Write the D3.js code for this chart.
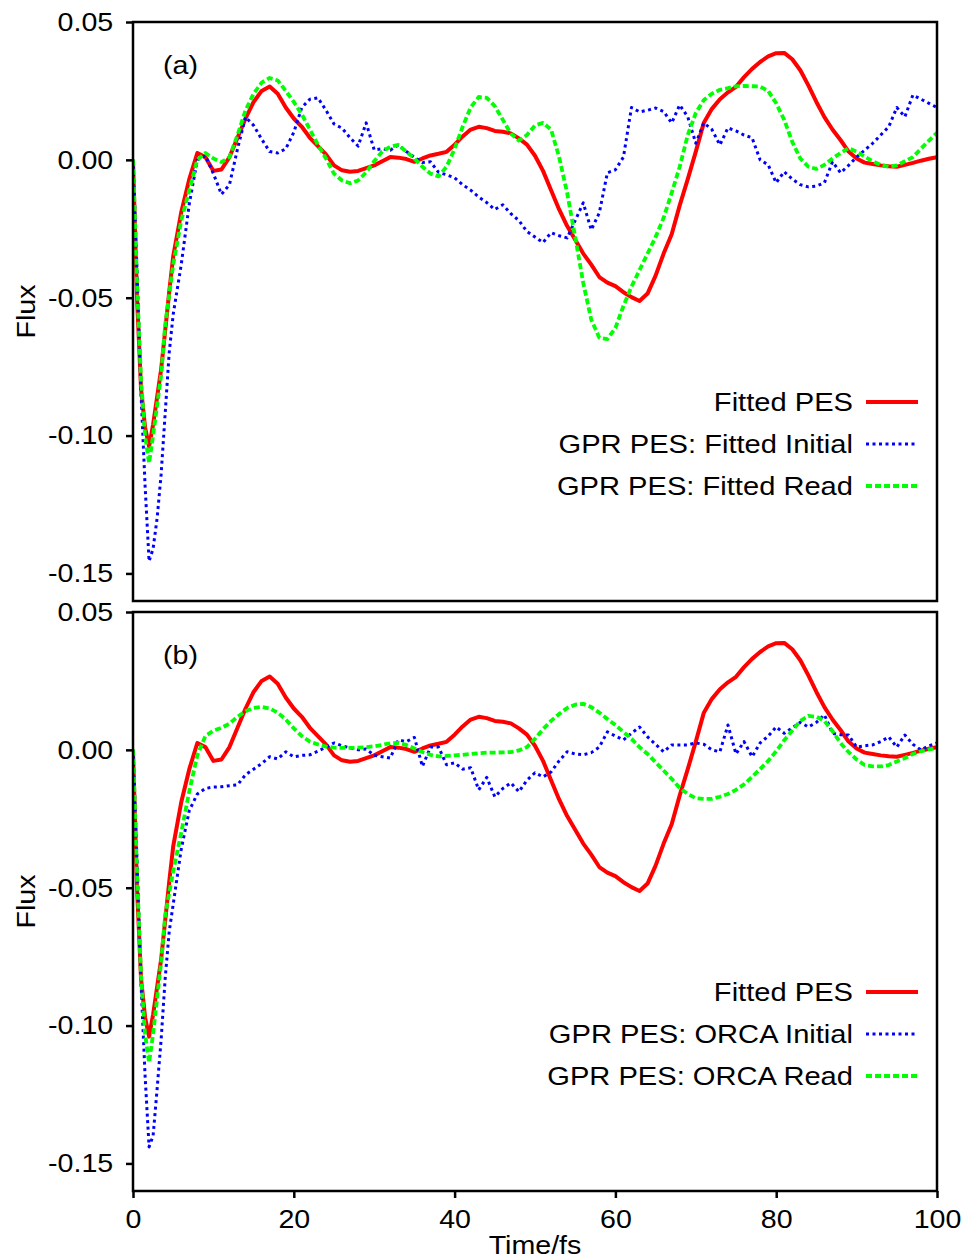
<!DOCTYPE html>
<html>
<head>
<meta charset="utf-8">
<script src="https://cdn.jsdelivr.net/npm/d3@7"></script>
<style>
  body { margin: 0; background: #fff; }
  text { font-family: "Liberation Sans", Arial, sans-serif; fill: #000; }
</style>
</head>
<body>
<svg id="chart" width="968" height="1259"></svg>
<script>
// time axis (fs)
const time = [0, 0.5, 1, 1.5, 2, 2.5, 3, 3.5, 4, 4.5,
  5, 6, 7, 8, 9, 10, 11, 12, 13, 14,
  15, 16, 17, 18, 19, 20, 21, 22, 23, 24,
  25, 26, 27, 28, 29, 30, 31, 32, 33, 34,
  35, 36, 37, 38, 39, 40, 41, 42, 43, 44,
  45, 46, 47, 48, 49, 50, 51, 52, 53, 54,
  55, 56, 57, 58, 59, 60, 61, 62, 63, 64,
  65, 66, 67, 68, 69, 70, 71, 72, 73, 74,
  75, 76, 77, 78, 79, 80, 81, 82, 83, 84,
  85, 86, 87, 88, 89, 90, 91, 92, 93, 94,
  95, 96, 97, 98, 99, 100];

// Fitted PES (same in both panels)
const fittedPES = [0, -0.05, -0.083, -0.097, -0.104, -0.096, -0.086, -0.076, -0.062, -0.048,
  -0.035, -0.019, -0.007, 0.0025, 0.001, -0.004, -0.0035, 0.001, 0.008, 0.015,
  0.021, 0.025, 0.0266, 0.024, 0.019, 0.015, 0.012, 0.008, 0.005, 0.002,
  -0.002, -0.0038, -0.0043, -0.004, -0.003, -0.002, -0.0005, 0.001, 0.0008, 0.0003,
  -0.0007, 0.0005, 0.0016, 0.0022, 0.0029, 0.0055, 0.0085, 0.011, 0.012, 0.0115,
  0.0105, 0.0102, 0.0096, 0.0078, 0.0055, 0.0015, -0.004, -0.011, -0.018, -0.024,
  -0.029, -0.034, -0.038, -0.0425, -0.0445, -0.0458, -0.048, -0.0498, -0.0512, -0.0485,
  -0.042, -0.034, -0.027, -0.0165, -0.007, 0.003, 0.0135, 0.0185, 0.022, 0.0245,
  0.0265, 0.03, 0.033, 0.0355, 0.0375, 0.0387, 0.0388, 0.0365, 0.0325, 0.027,
  0.021, 0.0155, 0.011, 0.0072, 0.003, 0.0005, -0.001, -0.0015, -0.002, -0.0023,
  -0.0025, -0.0018, -0.0011, -0.0003, 0.0004, 0.001];

// panel (a)
const fittedInitial = [0, -0.04, -0.085, -0.118, -0.1456, -0.141, -0.13, -0.114, -0.092, -0.07,
  -0.056, -0.038, -0.016, 0, 0.0015, -0.005, -0.0125, -0.009, 0.004, 0.0155,
  0.0125, 0.0075, 0.003, 0.0025, 0.004, 0.01, 0.019, 0.022, 0.0225, 0.018,
  0.013, 0.0115, 0.008, 0.005, 0.0134, 0.0036, 0.004, 0.0035, 0.0054, 0.003,
  0.001, -0.001, -0.0007, -0.0045, -0.0054, -0.0065, -0.009, -0.011, -0.0135, -0.0155,
  -0.018, -0.0163, -0.0195, -0.022, -0.026, -0.028, -0.03, -0.0264, -0.0275, -0.0283,
  -0.022, -0.0156, -0.0254, -0.0192, -0.0047, -0.0036, 0.001, 0.019, 0.0174, 0.018,
  0.0188, 0.0175, 0.0134, 0.0199, 0.0156, 0.006, 0.0134, 0.011, 0.0054, 0.0116,
  0.0105, 0.009, 0.008, 0, -0.0018, -0.0083, -0.0043, -0.007, -0.009, -0.0098,
  -0.0095, -0.0083, -0.0007, -0.0047, -0.002, 0.001, 0.0035, 0.006, 0.009, 0.012,
  0.019, 0.0156, 0.0235, 0.022, 0.0205, 0.019];

const fittedRead = [0, -0.045, -0.08, -0.1, -0.11, -0.1, -0.089, -0.078, -0.06, -0.049,
  -0.038, -0.022, -0.011, 0, 0.0025, 0.0005, -0.0008, 0.001, 0.009, 0.018,
  0.024, 0.028, 0.0297, 0.0288, 0.025, 0.021, 0.0165, 0.011, 0.0055, 0.0005,
  -0.005, -0.0075, -0.0085, -0.0075, -0.0045, -0.0005, 0.003, 0.0048, 0.0054, 0.003,
  0.0005, -0.0025, -0.005, -0.006, -0.0025, 0.004, 0.012, 0.019, 0.0228, 0.0225,
  0.0195, 0.0145, 0.0095, 0.007, 0.009, 0.0125, 0.0134, 0.011, 0.001, -0.012,
  -0.028, -0.0446, -0.058, -0.0645, -0.065, -0.061, -0.053, -0.046, -0.04, -0.034,
  -0.028, -0.021, -0.012, -0.0025, 0.009, 0.017, 0.0217, 0.024, 0.0254, 0.026,
  0.0267, 0.0268, 0.0267, 0.0266, 0.025, 0.0205, 0.0145, 0.0065, 0.0005, -0.0025,
  -0.0033, -0.0018, 0.0005, 0.0025, 0.0042, 0.003, 0.0012, -0.0005, -0.0018, -0.0025,
  -0.002, -0.0005, 0.001, 0.004, 0.007, 0.0098];

// panel (b)
const orcaInitial = [0, -0.04, -0.085, -0.118, -0.144, -0.14, -0.123, -0.105, -0.083, -0.066,
  -0.056, -0.036, -0.022, -0.016, -0.014, -0.0135, -0.0134, -0.013, -0.0127, -0.009,
  -0.007, -0.005, -0.0025, -0.0033, -0.0007, -0.0025, -0.002, -0.0018, -0.0005, 0.001,
  0.0025, 0.0015, 0.0007, 0, 0.0003, -0.002, -0.0025, -0.003, 0.0036, 0.003,
  0.0045, -0.006, 0.001, 0.001, -0.0054, -0.0047, -0.007, -0.0065, -0.0145, -0.01,
  -0.017, -0.014, -0.012, -0.0152, -0.011, -0.0083, -0.0098, -0.008, -0.004, -0.0007,
  -0.0015, -0.0018, -0.001, 0.001, 0.0065, 0.005, 0.0036, 0.006, 0.0083, 0.0047,
  0.002, -0.0007, 0.0018, 0.0018, 0.0018, 0.0025, 0.002, 0, -0.0007, 0.009,
  -0.0015, 0.003, -0.0025, 0.0025, 0.005, 0.0083, 0.006, 0.008, 0.01, 0.0083,
  0.01, 0.0127, 0.006, 0.0055, 0.0054, 0.001, 0.0015, 0.0018, 0.003, 0.0047,
  0.001, 0.0054, 0.002, 0, 0.0015, 0.0025];

const orcaRead = [0, -0.045, -0.082, -0.103, -0.1134, -0.103, -0.09, -0.077, -0.06, -0.052,
  -0.044, -0.03, -0.015, -0.002, 0.005, 0.007, 0.008, 0.0095, 0.012, 0.014,
  0.0152, 0.0156, 0.015, 0.0135, 0.011, 0.0078, 0.005, 0.003, 0.002, 0.0012,
  0.0008, 0.0007, 0.0007, 0.0008, 0.001, 0.0013, 0.0018, 0.0024, 0.0025, 0.0018,
  0.0005, -0.0008, -0.0018, -0.0024, -0.0022, -0.002, -0.0018, -0.0015, -0.0012, -0.001,
  -0.001, -0.0009, -0.0008, -0.0002, 0.001, 0.004, 0.0075, 0.0105, 0.013, 0.0152,
  0.0164, 0.0167, 0.0155, 0.0135, 0.0112, 0.009, 0.0065, 0.004, 0.001, -0.0015,
  -0.0045, -0.0075, -0.0105, -0.0138, -0.016, -0.0175, -0.0178, -0.0178, -0.017, -0.016,
  -0.0145, -0.0125, -0.0098, -0.007, -0.004, -0.0005, 0.0035, 0.007, 0.0105, 0.0123,
  0.012, 0.0105, 0.0068, 0.0025, -0.0008, -0.0035, -0.0055, -0.006, -0.006, -0.0055,
  -0.0042, -0.003, -0.0015, -0.0005, 0.0002, 0.0007];

const xTicks = [0, 20, 40, 60, 80, 100];
const yTicks = [-0.15, -0.10, -0.05, 0.00, 0.05];

const labelsA = ['Fitted PES', 'GPR PES: Fitted Initial', 'GPR PES: Fitted Read'];
const labelsB = ['Fitted PES', 'GPR PES: ORCA Initial', 'GPR PES: ORCA Read'];

// line styles: solid red, dotted blue, dashed green (gnuplot-ish)
const styles = [
  { color: '#ff0000', width: 4, dash: null },
  { color: '#0000ff', width: 3, dash: '3,3.5' },
  { color: '#00ff00', width: 3.8, dash: '6,3' }
];

const left = 133, right = 937;
const stretch = 'scale(1.1,1)';   // reference text is a bit wide

const panels = [
  { top: 22, bottom: 601, tag: '(a)', labels: labelsA, series: [fittedPES, fittedInitial, fittedRead], xAxis: false },
  { top: 612, bottom: 1191, tag: '(b)', labels: labelsB, series: [fittedPES, orcaInitial, orcaRead], xAxis: true }
];

const svg = d3.select('#chart');
const x = d3.scaleLinear().domain([0, 100]).range([left, right]);

panels.forEach((p, pi) => {
  const y = d3.scaleLinear().domain([-0.16, 0.05]).range([p.bottom, p.top]);
  const g = svg.append('g');

  const clipId = 'clip' + pi;
  g.append('clipPath').attr('id', clipId)
    .append('rect')
    .attr('x', left).attr('y', p.top)
    .attr('width', right - left).attr('height', p.bottom - p.top);

  // y axis
  g.append('g')
    .attr('transform', `translate(${left},0)`)
    .call(d3.axisLeft(y).tickValues(yTicks).tickFormat(d => d.toFixed(2)).tickSize(7).tickPadding(11))
    .attr('font-size', 26)
    .attr('font-family', '"Liberation Sans", Arial, sans-serif')
    .call(a => a.select('.domain').remove())
    .call(a => a.selectAll('line').attr('stroke', '#000').attr('stroke-width', 2.5))
    .call(a => a.selectAll('text').attr('fill', '#000').attr('transform', stretch));

  if (p.xAxis) {
    g.append('g')
      .attr('transform', `translate(0,${p.bottom})`)
      .call(d3.axisBottom(x).tickValues(xTicks).tickFormat(d3.format('d')).tickSize(7).tickPadding(12))
      .attr('font-size', 26)
      .attr('font-family', '"Liberation Sans", Arial, sans-serif')
      .call(a => a.select('.domain').remove())
      .call(a => a.selectAll('line').attr('stroke', '#000').attr('stroke-width', 2.5))
      .call(a => a.selectAll('text').attr('fill', '#000').attr('transform', stretch));

    svg.append('text')
      .attr('transform', `translate(${(left + right) / 2},1254) ${stretch}`)
      .attr('text-anchor', 'middle')
      .attr('font-size', 26)
      .text('Time/fs');
  }

  // y label
  svg.append('text')
    .attr('transform', `translate(35,${(p.top + p.bottom) / 2}) rotate(-90) ${stretch}`)
    .attr('text-anchor', 'middle')
    .attr('font-size', 26)
    .text('Flux');

  // curves
  const line = d3.line()
    .x((d, i) => x(time[i]))
    .y(d => y(d));

  p.series.forEach((vals, si) => {
    const s = styles[si];
    g.append('path')
      .datum(vals)
      .attr('clip-path', `url(#${clipId})`)
      .attr('fill', 'none')
      .attr('stroke', s.color)
      .attr('stroke-width', s.width)
      .attr('stroke-dasharray', s.dash)
      .attr('stroke-linejoin', 'round')
      .attr('d', line);
  });

  // frame
  g.append('rect')
    .attr('x', left).attr('y', p.top)
    .attr('width', right - left).attr('height', p.bottom - p.top)
    .attr('fill', 'none')
    .attr('stroke', '#000')
    .attr('stroke-width', 2.5);

  // panel tag
  g.append('text')
    .attr('transform', `translate(163,${p.top + 52}) ${stretch}`)
    .attr('font-size', 26)
    .text(p.tag);

  // legend
  p.labels.forEach((lab, li) => {
    const cy = p.top + 380 + li * 42;
    g.append('text')
      .attr('transform', `translate(853,${cy + 9}) scale(1.12,1)`)
      .attr('text-anchor', 'end')
      .attr('font-size', 26)
      .text(lab);
    const s = styles[li];
    g.append('line')
      .attr('x1', 866).attr('x2', 918)
      .attr('y1', cy).attr('y2', cy)
      .attr('stroke', s.color)
      .attr('stroke-width', s.width)
      .attr('stroke-dasharray', s.dash);
  });
});
</script>
</body>
</html>
